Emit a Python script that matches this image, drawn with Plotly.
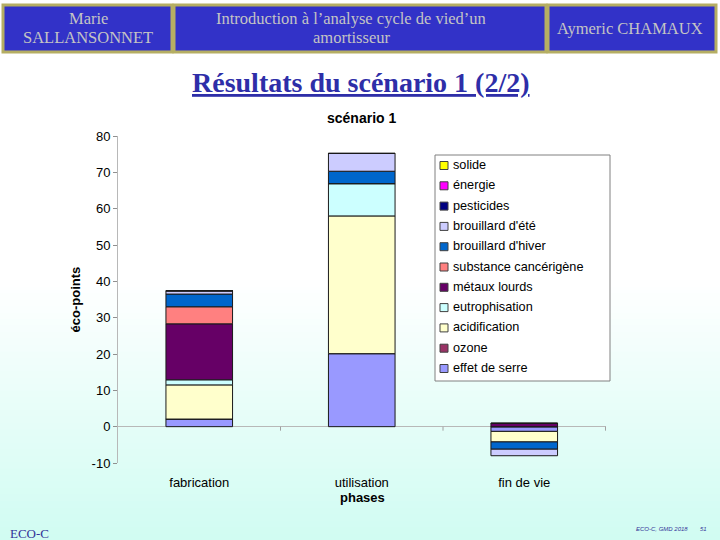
import plotly.graph_objects as go

W, H = 720, 540
L, R, T, B = 118, 606, 136, 463  # plot area in pixels

phases = ["fabrication", "utilisation", "fin de vie"]

# stacking order bottom -> top
series = ["effet de serre", "ozone", "acidification", "eutrophisation", "métaux lourds",
          "substance cancérigène", "brouillard d'hiver", "brouillard d'été",
          "pesticides", "énergie", "solide"]
effet_de_serre = [2.1, 20.1, -1.3]
ozone = [0, 0, 0]
acidification = [9.4, 37.9, -2.9]
eutrophisation = [1.4, 8.9, 0]
metaux_lourds = [15.4, 0, 0.9]
substance_cancerigene = [4.7, 0, 0]
brouillard_hiver = [3.5, 3.4, -2.0]
brouillard_ete = [0.9, 4.9, -1.8]
pesticides = [0, 0, 0]
energie = [0, 0, 0]
solide = [0, 0, 0]
values = [effet_de_serre, ozone, acidification, eutrophisation, metaux_lourds,
          substance_cancerigene, brouillard_hiver, brouillard_ete, pesticides, energie, solide]
colors = ["#9999FF", "#993366", "#FFFFCC", "#CCFFFF", "#660066", "#FF8080",
          "#0066CC", "#CCCCFF", "#000080", "#FF00FF", "#FFFF00"]

yticks = [-10, 0, 10, 20, 30, 40, 50, 60, 70, 80]
ytick_labels = ["-10", "0", "10", "20", "30", "40", "50", "60", "70", "80"]


def px(x):
    return (x - L) / (R - L)


def py(y):
    return (B - y) / (B - T)


fig = go.Figure()
for name, vals, col in zip(series, values, colors):
    fig.add_trace(go.Bar(x=phases, y=vals, name=name, showlegend=False,
                         marker=dict(color=col, line=dict(color="#1a1a1a", width=1)),
                         width=0.41))

shapes = []
annotations = []


def note(x, y, text, font, xanchor="center", yanchor="middle"):
    annotations.append(dict(x=px(x), y=py(y), xref="paper", yref="paper", showarrow=False,
                            xanchor=xanchor, yanchor=yanchor, text=text, font=font))


# background gradient (white -> light cyan)
top_c = (255, 255, 255)
bot_c = (208, 252, 242)
g0, g1 = 280, 540
n = 40
for i in range(n):
    y0 = g0 + (g1 - g0) * i / n
    y1 = g0 + (g1 - g0) * (i + 1) / n
    f = (i + 0.5) / n
    c = tuple(int(round(top_c[k] + (bot_c[k] - top_c[k]) * f)) for k in range(3))
    shapes.append(dict(type="rect", xref="paper", yref="paper", layer="below",
                       x0=px(0), x1=px(W), y0=py(y1 + 0.5), y1=py(y0),
                       line=dict(width=0), fillcolor="rgb(%d,%d,%d)" % c))
# header boxes
boxes = [(3, 172), (174, 546), (548, 716)]
for x0, x1 in boxes:
    shapes.append(dict(type="rect", xref="paper", yref="paper",
                       x0=px(x0), x1=px(x1), y0=py(52), y1=py(5),
                       line=dict(color="#B5AE63", width=3), fillcolor="#3232C8"))
# boundary tick marks on zero line
for xb in [0.5, 1.5, 2.5]:
    shapes.append(dict(type="line", xref="x", yref="y", x0=xb, x1=xb, y0=0, y1=-1.1,
                       line=dict(color="#A0A0A0", width=1)))

# legend (drawn as a box, swatches and labels)
shapes.append(dict(type="rect", xref="paper", yref="paper",
                   x0=px(435), x1=px(610), y0=py(381), y1=py(155),
                   line=dict(color="#808080", width=1), fillcolor="white"))
leg_font = dict(family="Liberation Sans", size=12.7, color="black")
for i, idx in enumerate(range(len(series) - 1, -1, -1)):
    yc = 165 + i * 20.3
    shapes.append(dict(type="rect", xref="paper", yref="paper",
                       x0=px(440), x1=px(448), y0=py(yc + 4.5), y1=py(yc - 3.5),
                       line=dict(color="#404040", width=1), fillcolor=colors[idx]))
    note(451, yc, series[idx], leg_font, xanchor="left")

hdr_font = dict(family="Liberation Serif", size=16.5, color="#C4C4C4")
note(88, 19, "Marie", hdr_font)
note(88, 38, "SALLANSONNET", hdr_font)
note(351, 19, "Introduction à l’analyse cycle de vied’un", hdr_font)
note(351, 38, "amortisseur", hdr_font)
note(630, 29, "Aymeric CHAMAUX", hdr_font)
note(361, 82, "<b><u>Résultats du scénario 1 (2/2)</u></b>",
     dict(family="Liberation Serif", size=28, color="#2E2EA8"))
note(361, 118, "<b>scénario 1</b>", dict(family="Liberation Sans", size=14, color="black"))
note(362, 497, "<b>phases</b>", dict(family="Liberation Sans", size=13, color="black"))
note(8, 533, "ECO-C", dict(family="Liberation Serif", size=13, color="#333399"), xanchor="left")
note(690, 529, "<i>ECO-C, GMD 2018</i>", dict(family="Liberation Sans", size=6, color="#333399"),
     xanchor="right")
note(709, 529, "<i>51</i>", dict(family="Liberation Sans", size=6, color="#333399"),
     xanchor="right")

fig.update_layout(
    width=W, height=H,
    margin=dict(l=L, r=W - R, t=T, b=H - B, pad=0),
    paper_bgcolor="white", plot_bgcolor="rgba(0,0,0,0)",
    barmode="relative", bargap=0.59,
    showlegend=False,
    shapes=shapes, annotations=annotations,
    font=dict(family="Liberation Sans", color="black"),
)
fig.update_xaxes(type="category", showgrid=False, showline=False, ticks="",
                 tickfont=dict(size=13, family="Liberation Sans"),
                 ticklabelstandoff=10)
fig.update_yaxes(range=[-10, 80], tickvals=yticks, ticktext=ytick_labels, showgrid=False,
                 showline=True, linecolor="#B8B8B8", linewidth=1,
                 ticks="outside", ticklen=4, tickcolor="#909090",
                 zeroline=True, zerolinecolor="#B8B8B8", zerolinewidth=1,
                 tickfont=dict(size=13, family="Liberation Sans"),
                 title=dict(text="<b>éco-points</b>", font=dict(size=13), standoff=8))

fig.write_html("out.html", config={"displayModeBar": False},
               post_script="document.body.style.margin='0';")
